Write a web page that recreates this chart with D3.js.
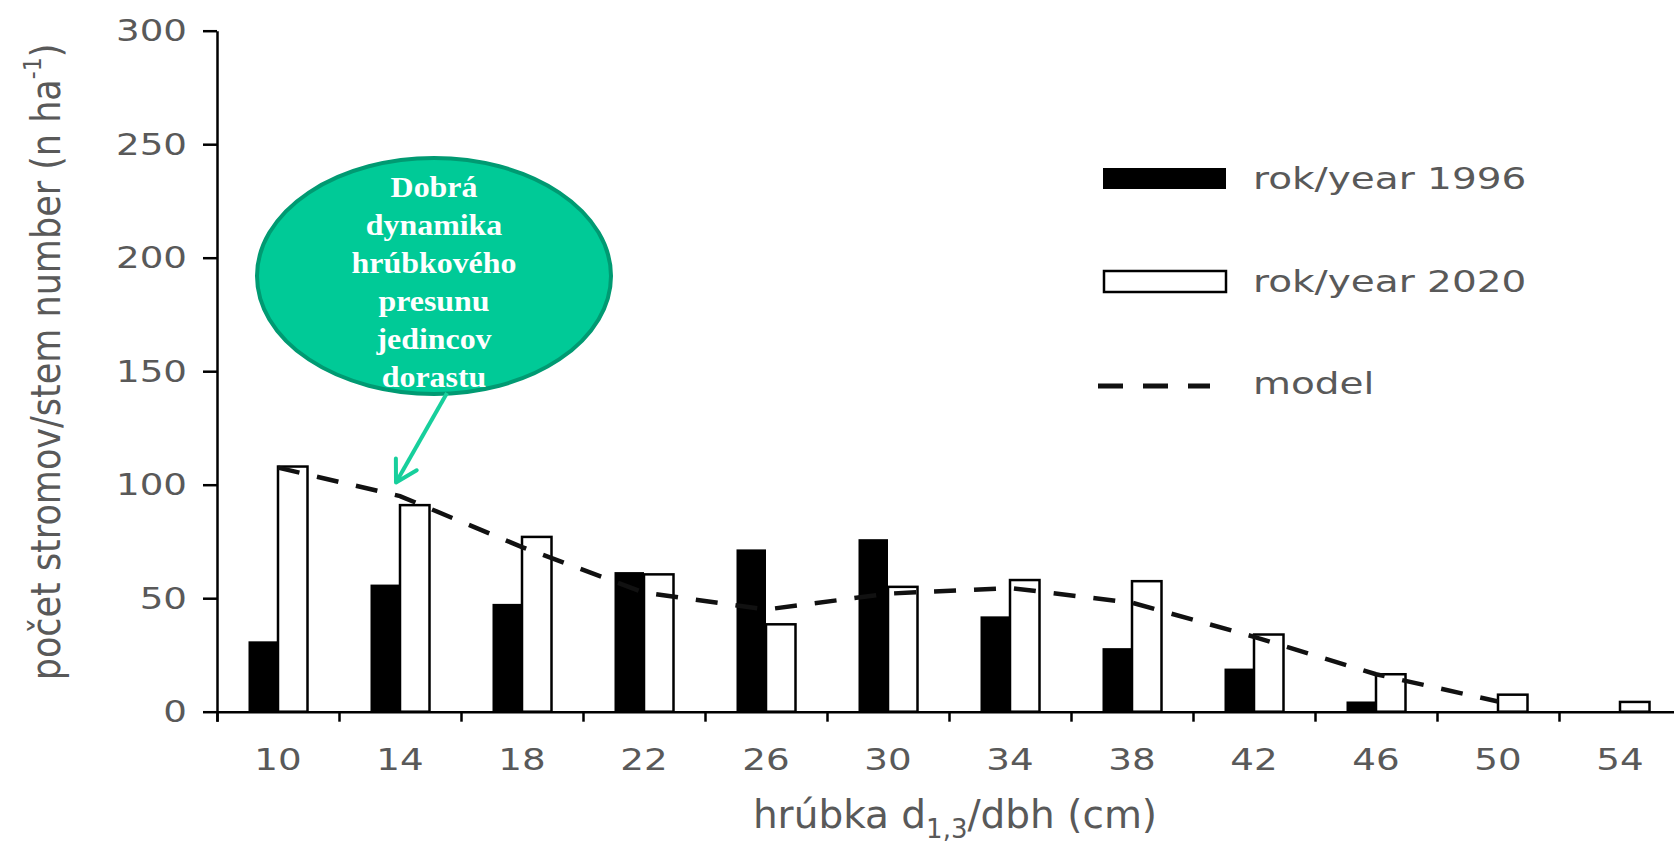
<!DOCTYPE html>
<html>
<head>
<meta charset="utf-8">
<script src="https://cdn.jsdelivr.net/npm/d3@7/dist/d3.min.js"></script>
<style>
  html, body { margin: 0; padding: 0; background: #fff; }
  svg { display: block; }
  .lbl { font-family: "DejaVu Sans", Verdana, sans-serif; fill: #595959; }
</style>
</head>
<body>
<svg id="chart" width="1674" height="849"></svg>
<script>
// Diameter classes (cm)
const categories = ["10", "14", "18", "22", "26", "30", "34", "38", "42", "46", "50", "54"];
// Stem numbers per hectare
const stems1996 = [31, 56, 47.5, 61.5, 71.5, 76, 42, 28, 19, 4.5, 0, 0];
const stems2020 = [108, 91, 77, 60.5, 38.5, 55, 58, 57.5, 34, 16.5, 7.5, 4.3];
// Model curve, defined for classes 10–50
const modelCats = ["10", "14", "18", "22", "26", "30", "34", "38", "42", "46", "50"];
const modelVals = [107.5, 95, 72.5, 52.5, 45, 52, 54.5, 48, 33, 16.5, 4.5];
const yTicks = [0, 50, 100, 150, 200, 250, 300];
const seriesNames = ["rok/year 1996", "rok/year 2020", "model"];
const calloutLines = ["Dobrá", "dynamika", "hrúbkového", "presunu", "jedincov", "dorastu"];

const svg = d3.select("#chart");

const x0 = 217, step = 122;
const x = d3.scaleBand().domain(categories).range([x0, x0 + step * categories.length]).padding(0);
const xEdge = d3.scaleLinear().domain([0, categories.length]).range(x.range());
const y = d3.scaleLinear().domain([0, 300]).range([711.7, 30.7]);

const barW = 29.5;
const sub = d3.scaleBand().domain(["1996", "2020"]).range([-barW, barW]).padding(0);

// bars 1996 (filled)
svg.append("g").selectAll("rect").data(categories).join("rect")
  .attr("x", (d) => x(d) + x.bandwidth() / 2 + sub("1996"))
  .attr("y", (d, i) => y(stems1996[i]))
  .attr("width", sub.bandwidth())
  .attr("height", (d, i) => y(0) - y(stems1996[i]))
  .attr("fill", "#000");

// bars 2020 (outlined)
svg.append("g").selectAll("rect").data(categories).join("rect")
  .attr("x", (d) => x(d) + x.bandwidth() / 2 + sub("2020"))
  .attr("y", (d, i) => y(stems2020[i]))
  .attr("width", sub.bandwidth())
  .attr("height", (d, i) => y(0) - y(stems2020[i]))
  .attr("fill", "#fff")
  .attr("stroke", "#000")
  .attr("stroke-width", 2.5);

// y axis
const yAxis = svg.append("g").attr("transform", `translate(${x0},0)`)
  .call(d3.axisLeft(y).tickValues(yTicks).tickSize(14).tickSizeOuter(0));
yAxis.select(".domain").attr("stroke", "#000").attr("stroke-width", 2.5);
yAxis.selectAll(".tick line").attr("stroke", "#000").attr("stroke-width", 2.5);
yAxis.selectAll(".tick text")
  .attr("class", "lbl")
  .attr("x", 0)
  .attr("transform", "translate(-30,0) scale(1.2,1)")
  .style("font-size", "31px");

// x axis: boundary tick marks
const xTicksAxis = svg.append("g").attr("transform", `translate(0,${y(0)})`)
  .call(d3.axisBottom(xEdge).tickValues(d3.range(0, categories.length + 1)).tickSize(10).tickFormat(""));
xTicksAxis.select(".domain").attr("stroke", "#000").attr("stroke-width", 2.5);
xTicksAxis.selectAll(".tick line").attr("stroke", "#000").attr("stroke-width", 2.5);

// x axis: class labels at band centres
const xLab = svg.append("g").attr("transform", `translate(0,${y(0)})`)
  .call(d3.axisBottom(x).tickSize(0).tickPadding(36));
xLab.select(".domain").remove();
xLab.selectAll(".tick text")
  .attr("class", "lbl")
  .attr("transform", "scale(1.2,1)")
  .attr("x", 0)
  .style("font-size", "31px");
xLab.selectAll(".tick").attr("transform", (d) => `translate(${x(d) + x.bandwidth() / 2},0)`);

// model line
const modelData = modelCats.map((c, i) => ({ c, v: modelVals[i] }));
svg.append("path")
  .datum(modelData)
  .attr("d", d3.line().x((d) => x(d.c) + x.bandwidth() / 2).y((d) => y(d.v)))
  .attr("fill", "none")
  .attr("stroke", "#111")
  .attr("stroke-width", 4.5)
  .attr("stroke-dasharray", "22,18");

// axis titles
const yt = svg.append("text").attr("class", "lbl")
  .attr("transform", "translate(46,362) rotate(-90) scale(1,1.15)")
  .attr("text-anchor", "middle")
  .attr("dominant-baseline", "central")
  .style("font-size", "35px");
yt.append("tspan").text("počet stromov/stem number (n ha");
yt.append("tspan").attr("dy", -12).style("font-size", "22px").text("-1");
yt.append("tspan").attr("dy", 12).text(")");

const xt = svg.append("text").attr("class", "lbl")
  .attr("x", 955).attr("y", 828)
  .attr("text-anchor", "middle")
  .style("font-size", "39px");
xt.append("tspan").text("hrúbka d");
xt.append("tspan").attr("dy", 10).style("font-size", "26px").text("1,3");
xt.append("tspan").attr("dy", -10).text("/dbh (cm)");

// legend
const legend = svg.append("g");
legend.append("rect").attr("x", 1103).attr("y", 168).attr("width", 123).attr("height", 21).attr("fill", "#000");
legend.append("rect").attr("x", 1104).attr("y", 271).attr("width", 122).attr("height", 21)
  .attr("fill", "#fff").attr("stroke", "#000").attr("stroke-width", 2.5);
legend.append("line").attr("x1", 1098).attr("x2", 1210).attr("y1", 386).attr("y2", 386)
  .attr("stroke", "#111").attr("stroke-width", 5).attr("stroke-dasharray", "25,20");
const legY = [179, 282, 384];
seriesNames.forEach((s, i) => {
  legend.append("text").attr("class", "lbl")
    .attr("transform", `translate(1253,${legY[i]}) scale(1.3,1)`)
    .attr("dominant-baseline", "central")
    .style("font-size", "30px")
    .text(s);
});

// callout bubble
const callout = svg.append("g");
callout.append("ellipse")
  .attr("cx", 434).attr("cy", 276).attr("rx", 177).attr("ry", 118)
  .attr("fill", "#00CA97").attr("stroke", "#009A72").attr("stroke-width", 4);
calloutLines.forEach((t, i) => {
  callout.append("text")
    .attr("transform", `translate(434,${197 + i * 38}) scale(1.1,1)`)
    .attr("text-anchor", "middle")
    .style("font-family", "'Liberation Serif', 'Times New Roman', serif")
    .style("font-weight", "bold")
    .style("font-size", "29px")
    .attr("fill", "#fff")
    .text(t);
});

// arrow pointing at the 14 cm class
const tip = [x("14") + x.bandwidth() / 2 - 4, y(101)];
const tail = [447, 393];
const ang = Math.atan2(tip[1] - tail[1], tip[0] - tail[0]);
const wing = 24, spread = Math.PI / 6;
const arrowColor = "#17CF9C";
callout.append("line")
  .attr("x1", tail[0]).attr("y1", tail[1]).attr("x2", tip[0]).attr("y2", tip[1])
  .attr("stroke", arrowColor).attr("stroke-width", 4);
callout.append("path")
  .attr("d", d3.line()([
    [tip[0] - wing * Math.cos(ang - spread), tip[1] - wing * Math.sin(ang - spread)],
    tip,
    [tip[0] - wing * Math.cos(ang + spread), tip[1] - wing * Math.sin(ang + spread)]
  ]))
  .attr("fill", "none").attr("stroke", arrowColor).attr("stroke-width", 4)
  .attr("stroke-linecap", "round").attr("stroke-linejoin", "round");
</script>
</body>
</html>
